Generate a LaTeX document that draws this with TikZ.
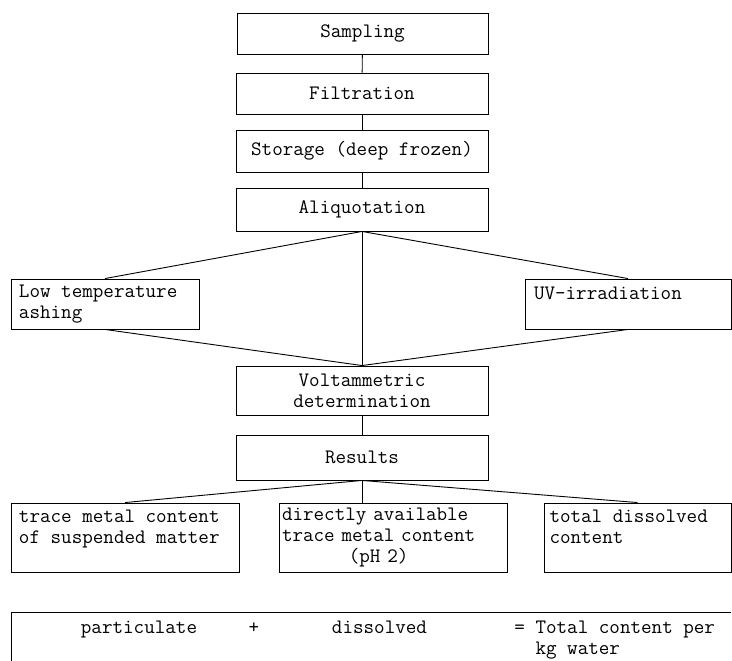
\documentclass[tikz,border=0pt]{standalone}
\usepackage{fontspec}
\newcommand\boxfont{\ttfamily\fontsize{20.5}{21}\selectfont}
\begin{document}
\begin{tikzpicture}[x=1pt,y=-1pt,line width=0.9pt]
  \tikzstyle{stepbox}=[rectangle, draw, inner sep=0pt, align=center, font=\boxfont]
  \tikzstyle{leftbox}=[stepbox, align=left]
  \tikzstyle{sumtext}=[inner sep=0pt, anchor=base, font=\boxfont]
  \useasboundingbox (0,0) rectangle (732,661);

  % Node definitions
  \node[stepbox, minimum width=251pt, minimum height=41pt] (samp) at (362.5,33.5) {Sampling};
  \node[stepbox, minimum width=252pt, minimum height=41pt] (filt) at (362,93.5) {Filtration};
  \node[stepbox, minimum width=252pt, minimum height=42pt] (stor) at (362,151) {Storage (deep frozen)};
  \node[stepbox, minimum width=252pt, minimum height=43pt] (aliq) at (362,209.5) {Aliquotation};
  \node[leftbox, minimum width=188pt, minimum height=50pt] (ash) at (105,304) {\makebox[172pt][l]{Low temperature}\\ashing};
  \node[leftbox, text width=188pt, minimum width=206pt, minimum height=50pt] (uv) at (628,304) {UV-irradiation\\\mbox{}};
  \node[stepbox, minimum width=252pt, minimum height=49pt] (volt) at (362,390.5) {Voltammetric\\determination};
  \node[stepbox, minimum width=252pt, minimum height=45pt] (res) at (362,457.5) {Results};
  \node[leftbox, minimum width=228pt, minimum height=69pt] (susp) at (125,537.5) {\makebox[212pt][l]{trace metal content}\\of suspended matter\\\mbox{}};
  \node[leftbox, text width=222pt, minimum width=228pt, minimum height=69pt] (avl) at (393,537.5)
    {\begin{tabular}{@{}l@{}}directly available\\trace metal content\\\multicolumn{1}{@{}c@{}}{(pH 2)}\end{tabular}};
  \node[leftbox, minimum width=187pt, minimum height=69pt] (tot) at (637.5,537.5) {\makebox[176pt][l]{total dissolved}\\content\\\mbox{}};

  % Sum line at the bottom
  \coordinate (sumR) at (731,612);
  \coordinate (sumL) at (11,612);
  \coordinate (sumB) at (11,661);
  \draw (sumR) -- (sumL) -- (sumB);
  \node[sumtext] (part) at (139,633) {particulate};
  \node[sumtext] (plus) at (254,633) {+};
  \node[sumtext] (diss) at (379.5,633) {dissolved};
  \node[sumtext, anchor=base west, align=left] (total) at (514,654) {= Total content per\\\hphantom{= }kg water};

  % Edge definitions
  \draw (samp) -- (filt);
  \draw (filt) -- (stor);
  \draw (stor) -- (aliq);
  \draw (aliq.south) -- (ash.north);
  \draw (aliq.south) -- (uv.north);
  \draw (aliq.south) -- (volt.north);
  \draw (ash.south) -- (volt.north);
  \draw (uv.south) -- (volt.north);
  \draw (volt) -- (res);
  \draw (res.south) -- (susp.north);
  \draw (res.south) -- (res.south |- avl.north);
  \draw (res.south) -- (tot.north);
\end{tikzpicture}
\end{document}
